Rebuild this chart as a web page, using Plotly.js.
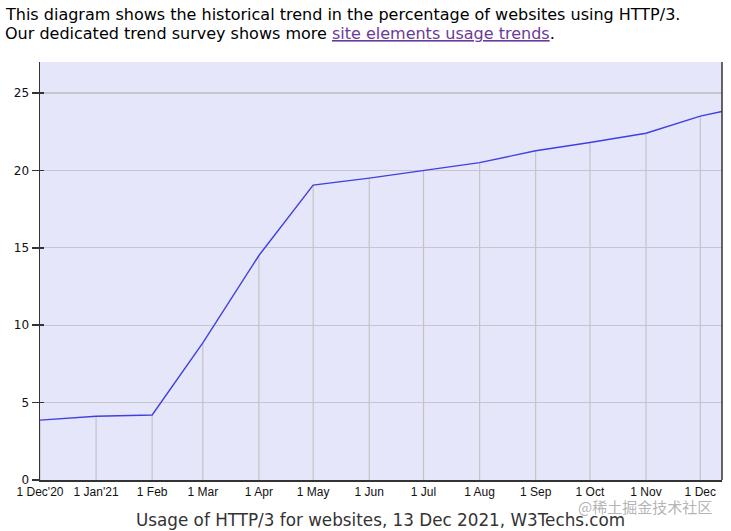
<!DOCTYPE html>
<html>
<head>
<meta charset="utf-8">
<script src="https://cdn.plot.ly/plotly-3.0.1.min.js"></script>
<style>
html,body{margin:0;padding:0;background:#fff;}
#chart{width:731px;height:531px;}
</style>
</head>
<body>
<div id="chart"></div>
<script>
// Data
const dates = ['2020-12-01','2021-01-01','2021-02-01','2021-03-01','2021-04-01','2021-05-01','2021-06-01','2021-07-01','2021-08-01','2021-09-01','2021-10-01','2021-11-01','2021-12-01','2021-12-13'];
const usage = [3.87, 4.12, 4.2, 8.86, 14.5, 19.05, 19.5, 19.97, 20.5, 21.27, 21.8, 22.4, 23.5, 23.8];
const tickDates = ['2020-12-01','2021-01-01','2021-02-01','2021-03-01','2021-04-01','2021-05-01','2021-06-01','2021-07-01','2021-08-01','2021-09-01','2021-10-01','2021-11-01','2021-12-01'];
const tickLabels = ["1 Dec'20","1 Jan'21","1 Feb","1 Mar","1 Apr","1 May","1 Jun","1 Jul","1 Aug","1 Sep","1 Oct","1 Nov","1 Dec"];
const yTicks = [0,5,10,15,20,25];

// drop lines only at monthly points
const monthDates = dates.slice(0, 13);
const monthUsage = usage.slice(0, 13);

const traces = [
  {
    type: 'scatter', mode: 'markers', x: monthDates, y: monthUsage,
    marker: {opacity: 0, size: 1}, hoverinfo: 'skip', showlegend: false,
    error_y: {type: 'data', symmetric: false, array: monthUsage.map(() => 0),
              arrayminus: monthUsage, width: 0, thickness: 1.2, color: '#c3c3c8'}
  },
  {
    type: 'scatter', mode: 'lines', x: dates, y: usage,
    line: {color: '#4040e0', width: 1.4}, showlegend: false, hoverinfo: 'x+y'
  },
  {
    type: 'scatter', mode: 'lines', x: [dates[0]], y: [usage[0]], yaxis: 'y2',
    showlegend: false, hoverinfo: 'skip', line: {width: 0}
  }
];

const pxToPaperX = px => (px - 40) / 682;
const pxToPaperY = py => (480 - py) / 418;

const layout = {
  width: 731, height: 531,
  margin: {l: 40, r: 9, t: 62, b: 51, pad: 0},
  paper_bgcolor: '#ffffff',
  plot_bgcolor: '#e6e6fa',
  font: {family: 'DejaVu Sans, Verdana, sans-serif', color: '#222'},
  xaxis: {
    type: 'date', range: ['2020-12-01', '2021-12-13'],
    tickvals: tickDates, ticktext: tickLabels,
    tickfont: {family: 'Liberation Sans, Arial, sans-serif', size: 12, color: '#111'},
    showgrid: false, zeroline: false, ticks: '', ticklen: 0,
    showline: true, linecolor: '#333', linewidth: 1.5,
    fixedrange: true
  },
  yaxis: {
    range: [0, 27], tickvals: yTicks, ticktext: yTicks.map(String),
    tickfont: {family: 'DejaVu Sans, Verdana, sans-serif', size: 12, color: '#111'},
    showgrid: true, gridcolor: '#c6c6cc', gridwidth: 1.2, zeroline: false,
    ticks: 'outside', ticklen: 7, tickwidth: 1.5, tickcolor: '#333',
    showline: true, linecolor: '#333', linewidth: 1.5,
    fixedrange: true
  },
  yaxis2: {
    overlaying: 'y', range: [0, 27], tickvals: yTicks, showticklabels: false,
    ticks: 'inside', ticklen: 4, tickwidth: 1.5, tickcolor: '#333',
    showgrid: false, zeroline: false, showline: false, side: 'left', fixedrange: true
  },
  shapes: [
    {type: 'line', xref: 'paper', yref: 'paper', x0: 1, x1: 1, y0: 0, y1: 1,
     line: {color: '#333', width: 1.5}}
  ],
  annotations: [
    {xref: 'paper', yref: 'paper', x: pxToPaperX(3), y: pxToPaperY(14), xanchor: 'left', yanchor: 'middle',
     showarrow: false, text: 'This diagram shows the historical trend in the percentage of websites using HTTP/3.',
     font: {family: 'DejaVu Sans, Verdana, sans-serif', size: 16, color: '#000'}},
    {xref: 'paper', yref: 'paper', x: pxToPaperX(3), y: pxToPaperY(33), xanchor: 'left', yanchor: 'middle',
     showarrow: false,
     text: 'Our dedicated trend survey shows more <span style="color:#6a3a9a;text-decoration:underline">site elements usage trends</span>.',
     font: {family: 'DejaVu Sans, Verdana, sans-serif', size: 16, color: '#000'}},
    {xref: 'paper', yref: 'paper', x: pxToPaperX(380), y: pxToPaperY(520), xanchor: 'center', yanchor: 'middle',
     showarrow: false, text: 'Usage of HTTP/3 for websites, 13 Dec 2021, W3Techs.com',
     font: {family: 'DejaVu Sans, Verdana, sans-serif', size: 16.8, color: '#333'}},
    {xref: 'paper', yref: 'paper', x: pxToPaperX(714), y: pxToPaperY(506), xanchor: 'right', yanchor: 'middle',
     showarrow: false, text: '@稀土掘金技术社区',
     font: {family: 'Noto Sans CJK SC, sans-serif', size: 15, color: 'rgba(160,160,160,0.8)'}}
  ]
};

Plotly.newPlot('chart', traces, layout, {displayModeBar: false, staticPlot: true});
</script>
</body>
</html>
